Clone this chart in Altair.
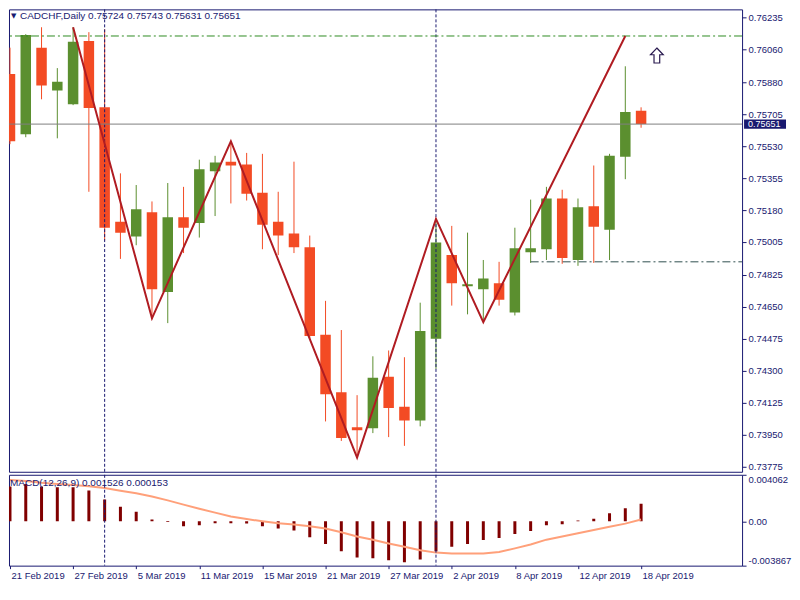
import altair as alt
import pandas as pd

# ---------------- data ----------------
bar_dates = ["21 Feb", "22 Feb", "25 Feb", "26 Feb", "27 Feb", "28 Feb", "1 Mar", "4 Mar", "5 Mar",
             "6 Mar", "7 Mar", "8 Mar", "11 Mar", "12 Mar", "13 Mar", "14 Mar", "15 Mar", "18 Mar",
             "19 Mar", "20 Mar", "21 Mar", "22 Mar", "25 Mar", "26 Mar", "27 Mar", "28 Mar", "29 Mar",
             "1 Apr", "2 Apr", "3 Apr", "4 Apr", "5 Apr", "8 Apr", "9 Apr", "10 Apr", "11 Apr",
             "12 Apr", "15 Apr", "16 Apr", "17 Apr", "18 Apr"]
opens = [0.75926, 0.75595, 0.76070, 0.75835, 0.75760, 0.76107, 0.75744, 0.75115, 0.75035, 0.75168,
         0.74730, 0.75141, 0.75109, 0.75392, 0.75445, 0.75429, 0.75275, 0.75115, 0.75051, 0.74976,
         0.74496, 0.74181, 0.73989, 0.73983, 0.74266, 0.74101, 0.74026, 0.74474, 0.74933, 0.74762,
         0.74746, 0.74778, 0.74618, 0.74949, 0.74965, 0.75243, 0.74906, 0.75200, 0.75072, 0.75472,
         0.75724]
highs = [0.76070, 0.76144, 0.76182, 0.75958, 0.76182, 0.76155, 0.76171, 0.75381, 0.75317, 0.75227,
         0.75328, 0.75307, 0.75456, 0.75477, 0.75557, 0.75493, 0.75488, 0.75280, 0.75445, 0.75040,
         0.74682, 0.74522, 0.74165, 0.74378, 0.74410, 0.74373, 0.74672, 0.75131, 0.75093, 0.75056,
         0.74906, 0.74896, 0.75083, 0.75237, 0.75307, 0.75291, 0.75243, 0.75424, 0.75488, 0.75968,
         0.75743]
lows = [0.75541, 0.75579, 0.75787, 0.75573, 0.75755, 0.75280, 0.75013, 0.74912, 0.74987, 0.74581,
        0.74560, 0.74944, 0.75029, 0.75147, 0.75216, 0.75232, 0.74965, 0.74933, 0.74944, 0.74474,
        0.74021, 0.73914, 0.73823, 0.73957, 0.73935, 0.73887, 0.73994, 0.74309, 0.74656, 0.74608,
        0.74565, 0.74656, 0.74602, 0.74890, 0.74906, 0.74885, 0.74874, 0.74890, 0.74906, 0.75349,
        0.75631]
closes = [0.75557, 0.76139, 0.75862, 0.75883, 0.76102, 0.75739, 0.75083, 0.75056, 0.75184, 0.74746,
          0.75141, 0.75083, 0.75403, 0.75440, 0.75424, 0.75269, 0.75099, 0.75040, 0.74976, 0.74490,
          0.74170, 0.73930, 0.73973, 0.74261, 0.74095, 0.74026, 0.74517, 0.75002, 0.74778, 0.74773,
          0.74805, 0.74688, 0.74970, 0.74970, 0.75243, 0.74917, 0.75195, 0.75088, 0.75477, 0.75717,
          0.75651]
macd_hist = [0.00304, 0.00326, 0.00304, 0.00298, 0.00298, 0.00270, 0.00191, 0.00127, 0.00084, 0.00017,
             -0.00006, -0.00042, -0.00034, -0.00017, -0.00017, -0.00020, -0.00042, -0.00062, -0.00079,
             -0.00138, -0.00197, -0.00262, -0.00315, -0.00323, -0.00340, -0.00357, -0.00332, -0.00264,
             -0.00222, -0.00197, -0.00163, -0.00146, -0.00110, -0.00084, -0.00034, -0.00025, 0.00008,
             0.00022, 0.00070, 0.00115, 0.001526]
macd_signal = [0.00360, 0.00352, 0.00337, 0.00326, 0.00318, 0.00307, 0.00290, 0.00267, 0.00245, 0.00217,
               0.00183, 0.00146, 0.00110, 0.00076, 0.00042, 0.00020, 0.0, -0.00017, -0.00028, -0.00042,
               -0.00062, -0.00096, -0.00132, -0.00160, -0.00194, -0.00222, -0.00253, -0.00273, -0.00281,
               -0.00281, -0.00281, -0.00267, -0.00236, -0.00202, -0.00160, -0.00132, -0.00104, -0.00076,
               -0.00048, -0.00020, 0.000153]
zz_idx = [4, 9, 14, 22, 27, 30, 39]
zz_price = [0.76182, 0.74586, 0.75557, 0.73823, 0.75131, 0.74565, 0.76134]
target_level = [0.76134]
current_price = [0.75651]
support_level = [0.74896]
support_start = [33]
month_separators = [6, 27]
arrow_idx = [41]
arrow_price = [0.76027]
price_ticks = [0.76235, 0.76060, 0.75880, 0.75705, 0.75530, 0.75355, 0.75180, 0.75005,
               0.74825, 0.74650, 0.74475, 0.74300, 0.74125, 0.73950, 0.73775]
macd_ticks = [0.004062, 0.0, -0.003867]
macd_tick_labels = ["0.004062", "0.00", "-0.003867"]
date_tick_idx = [0, 4, 8, 12, 16, 20, 24, 28, 32, 36, 40]
date_tick_labels = ["21 Feb 2019", "27 Feb 2019", "5 Mar 2019", "11 Mar 2019", "15 Mar 2019",
                    "21 Mar 2019", "27 Mar 2019", "2 Apr 2019", "8 Apr 2019", "12 Apr 2019",
                    "18 Apr 2019"]
header_text = "CADCHF,Daily  0.75724 0.75743 0.75631 0.75651"
macd_text = "MACD(12,26,9) 0.001526 0.000153"

# ---------------- style ----------------
FONT = "Liberation Sans"
NAVY = "#191970"
RED = "#f34b24"
GREEN = "#5b8f2f"
W = 734
H_MAIN = 463
H_MACD = 91
XDOM = [-0.0625, 46.4]
YDOM = [0.73745, 0.76280]
MDOM = [-0.003867, 0.004062]

candles = pd.DataFrame({"i": list(range(len(opens))), "d": bar_dates, "open": opens,
                        "high": highs, "low": lows, "close": closes})
macd_df = pd.DataFrame({"i": list(range(len(macd_hist))), "h": macd_hist, "s": macd_signal})
zz_df = pd.DataFrame({"i": zz_idx, "p": zz_price})

xs = alt.Scale(domain=XDOM, nice=False, zero=False, padding=0)
ys = alt.Scale(domain=YDOM, nice=False, zero=False, padding=0)
ms = alt.Scale(domain=MDOM, nice=False, zero=False, padding=0)

price_axis = alt.Axis(orient="right", values=price_ticks, format=".5f", labelColor=NAVY,
                      tickColor=NAVY, tickSize=4, labelPadding=2, domain=False, grid=False,
                      title=None, labelFontSize=9.5, labelFont=FONT, labelOverlap=False)

macd_label_expr = " : ".join(
    [f"datum.value == {v} ? '{l}'" for v, l in zip(macd_ticks, macd_tick_labels)]) + " : ''"
date_label_expr = "[" + ",".join(f"'{d}'" for d in date_tick_labels) + "][round(datum.value / 4)]"

macd_axis = alt.Axis(orient="right", values=macd_ticks, labelExpr=macd_label_expr,
                     labelColor=NAVY, tickColor=NAVY, tickSize=4, labelPadding=2, domain=False,
                     grid=False, title=None, labelFontSize=9.5, labelFont=FONT, labelFlush=True,
                     labelOverlap=False)
date_axis = alt.Axis(values=date_tick_idx, labelExpr=date_label_expr, labelAlign="left",
                     labelBaseline="top", labelColor=NAVY, tickColor=NAVY, tickSize=3,
                     labelPadding=2, domain=False, grid=False, title=None, labelFontSize=9.5,
                     labelFont=FONT, labelOverlap=False, labelFlush=False, labelOffset=1)


def X(field="i:Q"):
    return alt.X(field, scale=xs, axis=None)


def Y(field="p:Q"):
    return alt.Y(field, scale=ys, axis=price_axis)


def MX(field="i:Q"):
    return alt.X(field, scale=xs, axis=date_axis)


def MY(field):
    return alt.Y(field, scale=ms, axis=macd_axis)


candle_color = alt.condition("datum.close >= datum.open", alt.value(GREEN), alt.value(RED))

base = alt.Chart(candles)
wicks = base.mark_rule(strokeWidth=1, clip=True).encode(
    x=X(), y=Y("low:Q"), y2="high:Q", color=candle_color,
)
bodies = base.mark_bar(size=10.5, clip=True).encode(
    x=X(), y=Y("open:Q"), y2="close:Q", color=candle_color,
)

dashdot = [8, 3, 2, 3]
target_rule = alt.Chart(pd.DataFrame({"p": target_level})).mark_rule(
    color="#2e8b22", strokeWidth=1, strokeDash=dashdot).encode(y=Y())
price_rule = alt.Chart(pd.DataFrame({"p": current_price})).mark_rule(
    color="#808080", strokeWidth=1).encode(y=Y())
support_rule = alt.Chart(pd.DataFrame({"i": support_start, "p": support_level})).mark_rule(
    color="#2f4f4f", strokeWidth=1, strokeDash=dashdot).encode(
    x=X(), x2=alt.datum(XDOM[1]), y=Y())
sep_main = alt.Chart(pd.DataFrame({"i": month_separators})).mark_rule(
    color=NAVY, strokeWidth=1, strokeDash=[3, 2]).encode(x=X())

zigzag = alt.Chart(zz_df).mark_line(color="#b01c22", strokeWidth=2, clip=True).encode(
    x=X(), y=Y())

arrow_shape = "M0,-1 L0.85,-0.1 L0.38,-0.1 L0.38,1 L-0.38,1 L-0.38,-0.1 L-0.85,-0.1 Z"
arrow = alt.Chart(pd.DataFrame({"i": arrow_idx, "p": arrow_price})).mark_point(
    shape=arrow_shape, size=225, filled=True, fill="white", stroke="#2a1a50",
    strokeWidth=1.2, opacity=1).encode(x=X(), y=Y())

box_shape = "M-1,-0.22 L1,-0.22 L1,0.22 L-1,0.22 Z"
price_box = alt.Chart(pd.DataFrame({"p": current_price})).mark_point(
    shape=box_shape, size=1764, filled=True, color=NAVY, opacity=1).encode(
    x=alt.value(W + 23), y=Y())
price_box_text = alt.Chart(pd.DataFrame({"p": current_price})).mark_text(
    align="left", baseline="middle", color="white", font=FONT, fontSize=9).encode(
    x=alt.value(W + 6), y=Y(), text=alt.Text("p:Q", format=".5f"))

tri = alt.Chart(pd.DataFrame({"t": ["\u25bc"]})).mark_text(
    align="left", baseline="middle", color=NAVY, font="DejaVu Sans", fontSize=7).encode(
    x=alt.value(2), y=alt.value(7), text="t:N")
header = alt.Chart(pd.DataFrame({"t": [header_text]})).mark_text(
    align="left", baseline="middle", color=NAVY, font=FONT, fontSize=10).encode(
    x=alt.value(11), y=alt.value(7), text="t:N")

main = alt.layer(wicks, bodies, sep_main, target_rule, price_rule, support_rule, zigzag,
                 arrow, price_box, price_box_text, tri, header).properties(width=W, height=H_MAIN)

# ---------------- MACD panel ----------------
mbase = alt.Chart(macd_df)
hist = mbase.mark_bar(size=3, color="#800000", clip=True).encode(
    x=MX(), y=MY("h:Q"), y2=alt.datum(0),
)
signal = mbase.mark_line(color="#ffa07a", strokeWidth=2, clip=True).encode(
    x=MX(), y=MY("s:Q"))
sep_macd = alt.Chart(pd.DataFrame({"i": month_separators})).mark_rule(
    color=NAVY, strokeWidth=1, strokeDash=[3, 2]).encode(x=MX())
macd_lbl = alt.Chart(pd.DataFrame({"t": [macd_text]})).mark_text(
    align="left", baseline="middle", color=NAVY, font=FONT, fontSize=10).encode(
    x=alt.value(1), y=alt.value(8), text="t:N")

macd = alt.layer(hist, signal, sep_macd, macd_lbl).properties(width=W, height=H_MACD)

chart = alt.vconcat(main, macd, spacing=3, bounds="flush").properties(
    padding=0, background="white"
).configure(font=FONT).configure_view(stroke=NAVY, strokeWidth=1).configure_axis(
    labelOverlap=False)

chart.save("out.html", embed_options={"renderer": "svg", "actions": False})
